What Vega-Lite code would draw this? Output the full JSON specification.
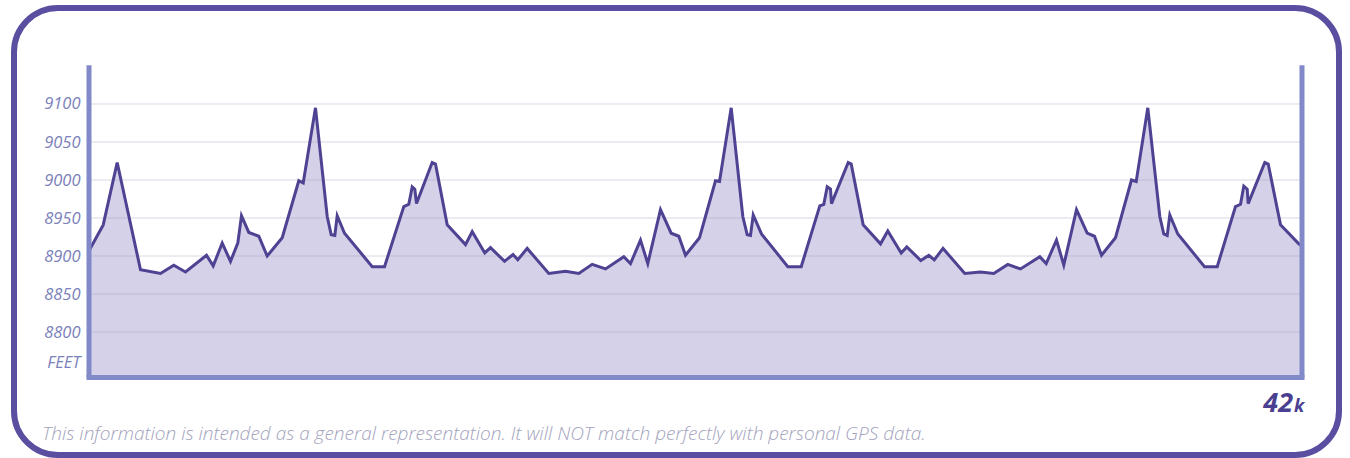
{
  "$schema": "https://vega.github.io/schema/vega-lite/v6.json",
  "width": 1325,
  "height": 447,
  "autosize": {"type": "none"},
  "padding": {"left": 14, "top": 8, "right": 11, "bottom": 3},
  "background": "#ffffff",
  "config": {
    "view": {"stroke": "#5a4ea0", "strokeWidth": 6, "cornerRadius": 44, "fill": "#ffffff"}
  },
  "resolve": {"axis": {"x": "independent", "y": "independent"}},
  "datasets": {
    "profile": [
      {"km": 0, "ft": 8907}, {"km": 0.492, "ft": 8941}, {"km": 0.976, "ft": 9023}, {"km": 1.783, "ft": 8882},
      {"km": 2.476, "ft": 8877}, {"km": 2.936, "ft": 8888}, {"km": 3.341, "ft": 8879}, {"km": 4.068, "ft": 8901},
      {"km": 4.3, "ft": 8887}, {"km": 4.612, "ft": 8917}, {"km": 4.899, "ft": 8893}, {"km": 5.152, "ft": 8917},
      {"km": 5.28, "ft": 8953}, {"km": 5.533, "ft": 8931}, {"km": 5.879, "ft": 8926}, {"km": 6.17, "ft": 8900},
      {"km": 6.69, "ft": 8924}, {"km": 7.264, "ft": 8999}, {"km": 7.417, "ft": 8996}, {"km": 7.842, "ft": 9095},
      {"km": 8.248, "ft": 8952}, {"km": 8.386, "ft": 8928}, {"km": 8.511, "ft": 8927}, {"km": 8.594, "ft": 8953},
      {"km": 8.847, "ft": 8930}, {"km": 9.806, "ft": 8886}, {"km": 10.232, "ft": 8886}, {"km": 10.9, "ft": 8965},
      {"km": 11.073, "ft": 8968}, {"km": 11.191, "ft": 8991}, {"km": 11.281, "ft": 8988}, {"km": 11.34, "ft": 8969},
      {"km": 11.883, "ft": 9023}, {"km": 11.998, "ft": 9021}, {"km": 12.403, "ft": 8941}, {"km": 13.036, "ft": 8915},
      {"km": 13.268, "ft": 8932}, {"km": 13.704, "ft": 8904}, {"km": 13.902, "ft": 8911}, {"km": 14.387, "ft": 8893},
      {"km": 14.681, "ft": 8902}, {"km": 14.847, "ft": 8895}, {"km": 15.172, "ft": 8910},
      {"km": 15.92, "ft": 8877}, {"km": 16.499, "ft": 8880}, {"km": 16.959, "ft": 8877}, {"km": 17.423, "ft": 8889},
      {"km": 17.884, "ft": 8883}, {"km": 18.517, "ft": 8899}, {"km": 18.749, "ft": 8890}, {"km": 19.095, "ft": 8921},
      {"km": 19.348, "ft": 8890}, {"km": 19.788, "ft": 8961}, {"km": 20.158, "ft": 8930}, {"km": 20.422, "ft": 8926},
      {"km": 20.654, "ft": 8901}, {"km": 21.139, "ft": 8924}, {"km": 21.692, "ft": 8999}, {"km": 21.831, "ft": 8998},
      {"km": 22.236, "ft": 9095}, {"km": 22.638, "ft": 8952}, {"km": 22.79, "ft": 8928}, {"km": 22.904, "ft": 8927},
      {"km": 22.998, "ft": 8954}, {"km": 23.285, "ft": 8929}, {"km": 24.196, "ft": 8886}, {"km": 24.66, "ft": 8886},
      {"km": 25.304, "ft": 8966}, {"km": 25.442, "ft": 8968}, {"km": 25.56, "ft": 8991}, {"km": 25.674, "ft": 8988},
      {"km": 25.709, "ft": 8969}, {"km": 26.287, "ft": 9023}, {"km": 26.391, "ft": 9021}, {"km": 26.806, "ft": 8941},
      {"km": 27.406, "ft": 8916}, {"km": 27.658, "ft": 8933}, {"km": 28.122, "ft": 8904}, {"km": 28.316, "ft": 8912},
      {"km": 28.801, "ft": 8894}, {"km": 29.078, "ft": 8901}, {"km": 29.268, "ft": 8895}, {"km": 29.57, "ft": 8910},
      {"km": 30.324, "ft": 8877}, {"km": 30.868, "ft": 8879}, {"km": 31.328, "ft": 8877}, {"km": 31.813, "ft": 8889},
      {"km": 32.253, "ft": 8883}, {"km": 32.921, "ft": 8899}, {"km": 33.143, "ft": 8890}, {"km": 33.499, "ft": 8921},
      {"km": 33.752, "ft": 8888}, {"km": 34.192, "ft": 8961}, {"km": 34.562, "ft": 8930}, {"km": 34.815, "ft": 8926},
      {"km": 35.058, "ft": 8901}, {"km": 35.542, "ft": 8924}, {"km": 36.096, "ft": 9000}, {"km": 36.259, "ft": 8998},
      {"km": 36.661, "ft": 9095}, {"km": 37.076, "ft": 8952}, {"km": 37.215, "ft": 8929}, {"km": 37.332, "ft": 8927},
      {"km": 37.423, "ft": 8954}, {"km": 37.7, "ft": 8929}, {"km": 38.624, "ft": 8886}, {"km": 39.064, "ft": 8886},
      {"km": 39.697, "ft": 8965}, {"km": 39.871, "ft": 8968}, {"km": 39.985, "ft": 8992}, {"km": 40.103, "ft": 8988},
      {"km": 40.137, "ft": 8969}, {"km": 40.712, "ft": 9023}, {"km": 40.83, "ft": 9021}, {"km": 41.256, "ft": 8941},
      {"km": 41.889, "ft": 8916}, {"km": 42, "ft": 8913}
    ],
    "grid": [{"g": 8800}, {"g": 8850}, {"g": 8900}, {"g": 8950}, {"g": 9000}, {"g": 9050}, {"g": 9100}]
  },
  "layer": [
    {
      "data": {"name": "profile"},
      "mark": {"type": "area", "fill": "#d4d1e8", "stroke": null},
      "encoding": {
        "x": {"field": "km", "type": "quantitative", "axis": null,
              "scale": {"domain": [-2.597, 43.281], "nice": false, "zero": false}},
        "y": {"field": "ft", "type": "quantitative",
              "scale": {"domain": [8638.2, 9226.3], "nice": false, "zero": false},
              "axis": {"title": null, "values": [8760, 8800, 8850, 8900, 8950, 9000, 9050, 9100],
                       "format": "d",
                       "labelExpr": "datum.value < 8780 ? 'FEET' : datum.label",
                       "domain": false, "ticks": false, "grid": false,
                       "offset": -70, "labelPadding": 4,
                       "labelFont": "Open Sans", "labelFontStyle": "italic", "labelFontSize": 16.5,
                       "labelColor": "#7b81ba", "labelAlign": "right", "labelBaseline": "middle"}},
        "y2": {"datum": 8740}
      }
    },
    {
      "data": {"name": "grid"},
      "mark": {"type": "rule", "stroke": "#9f9cbf", "strokeOpacity": 0.4, "strokeWidth": 1},
      "encoding": {
        "x": {"datum": 0, "type": "quantitative", "axis": null},
        "x2": {"datum": 42},
        "y": {"field": "g", "type": "quantitative", "axis": null}
      }
    },
    {
      "data": {"name": "profile"},
      "mark": {"type": "line", "stroke": "#4e4292", "strokeWidth": 3},
      "encoding": {
        "x": {"field": "km", "type": "quantitative", "axis": null},
        "y": {"field": "ft", "type": "quantitative", "axis": null}
      }
    },
    {
      "data": {"values": [{"k": 0}, {"k": 42}]},
      "mark": {"type": "rule", "stroke": "#8189c9", "strokeWidth": 5},
      "encoding": {
        "x": {"field": "k", "type": "quantitative", "axis": null},
        "y": {"datum": 8740, "type": "quantitative", "axis": null},
        "y2": {"datum": 9151}
      }
    },
    {
      "data": {"values": [{"k": 0}]},
      "mark": {"type": "rule", "stroke": "#8189c9", "strokeWidth": 5, "strokeCap": "square"},
      "encoding": {
        "x": {"datum": 0, "type": "quantitative", "axis": null},
        "x2": {"datum": 42},
        "y": {"datum": 8740, "type": "quantitative", "axis": null}
      }
    },
    {
      "data": {"values": [{"t": "42"}]},
      "mark": {"type": "text", "font": "Open Sans", "fontStyle": "italic", "fontWeight": "bold", "fontSize": 27, "color": "#4a3f90", "align": "right", "baseline": "alphabetic"},
      "encoding": {
        "x": {"datum": 41.69, "type": "quantitative", "axis": null},
        "y": {"datum": 8694.7, "type": "quantitative", "axis": null},
        "text": {"field": "t"}
      }
    },
    {
      "data": {"values": [{"t": "k"}]},
      "mark": {"type": "text", "font": "Open Sans", "fontStyle": "italic", "fontWeight": "bold", "fontSize": 18, "color": "#4a3f90", "align": "left", "baseline": "alphabetic"},
      "encoding": {
        "x": {"datum": 41.72, "type": "quantitative", "axis": null},
        "y": {"datum": 8694.7, "type": "quantitative", "axis": null},
        "text": {"field": "t"}
      }
    },
    {
      "data": {"values": [{"t": "This information is intended as a general representation. It will NOT match perfectly with personal GPS data."}]},
      "mark": {"type": "text", "font": "Open Sans", "fontStyle": "italic", "fontWeight": 300, "fontSize": 19, "color": "#a3a3bd", "align": "left", "baseline": "alphabetic"},
      "encoding": {
        "x": {"datum": -1.627, "type": "quantitative", "axis": null},
        "y": {"datum": 8657.9, "type": "quantitative", "axis": null},
        "text": {"field": "t"}
      }
    }
  ]
}
